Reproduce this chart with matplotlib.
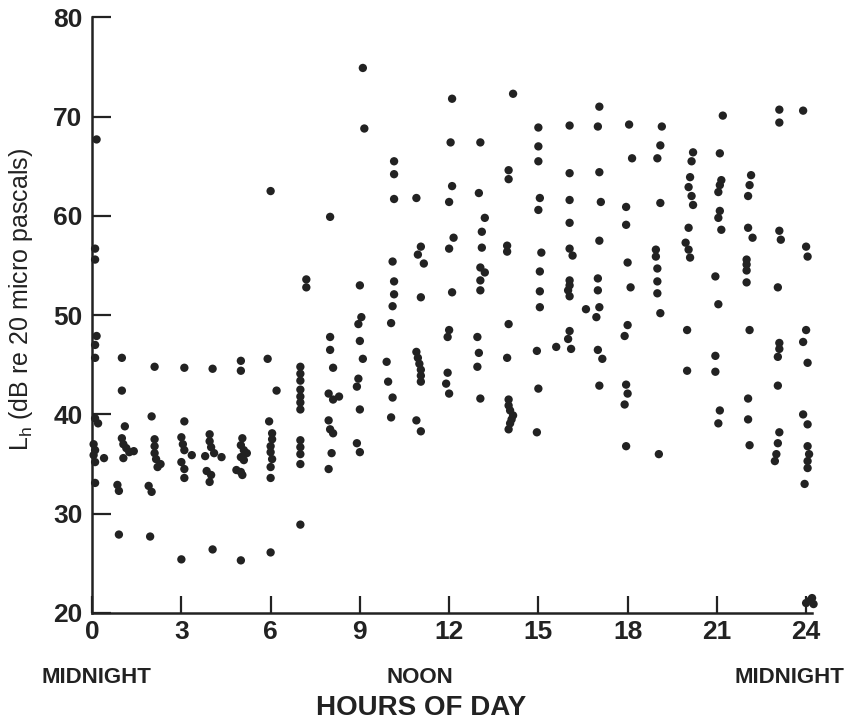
import matplotlib
matplotlib.use('Agg')
import matplotlib.pyplot as plt

plt.rcParams['font.family'] = ['Liberation Sans', 'DejaVu Sans']

# hourly noise level L_h, one row per hour column (x = hour of day, y = dB)
hours = [
    0.15, 0.1, 0.1, 0.15, 0.1, 0.1, 0.1, 0.2, 0.05, 0.1, 0.05, 0.4, 0.1, 0.1,
    1.0, 1.0, 1.1, 1.0, 1.05, 1.15, 1.25, 1.4, 1.05, 0.85, 0.9, 0.9,
    2.1, 2.0, 2.1, 2.1, 2.1, 2.15, 2.3, 2.2, 1.9, 2.0, 1.95,
    3.1, 3.1, 3.0, 3.05, 3.1, 3.35, 3.0, 3.1, 3.1, 3.0,
    4.05, 3.95, 3.95, 4.0, 4.1, 4.35, 3.8, 3.85, 4.0, 3.95, 4.05,
    5.0, 5.0, 5.05, 5.0, 5.1, 5.2, 5.0, 5.1, 4.85, 5.0, 5.05, 5.0,
    6.0, 5.9, 6.2, 5.95, 6.05, 6.05, 6.0, 6.0, 6.05, 6.0, 6.0, 6.0,
    7.2, 7.2, 7.0, 7.0, 7.0, 7.0, 7.0, 7.0, 7.0, 7.0, 7.0, 7.0, 7.0, 7.0,
    8.0, 8.0, 8.0, 8.1, 7.95, 8.3, 8.1, 7.95, 8.0, 8.1, 8.05, 7.95,
    9.1, 9.15, 9.0, 9.05, 8.95, 9.0, 9.1, 8.95, 8.9, 9.0, 8.9, 9.0,
    10.15, 10.15, 10.15, 10.1, 10.15, 10.15, 10.1, 10.05, 9.9, 9.95, 10.1, 10.05,
    10.9, 11.05, 10.95, 11.15, 11.05, 10.9, 10.95, 11.0, 11.05, 11.05, 11.05, 10.9, 11.05,
    12.1, 12.05, 12.1, 12.0, 12.15, 12.0, 12.1, 12.0, 11.95, 11.95, 11.9, 12.0,
    13.05, 13.0, 13.2, 13.1, 13.1, 13.05, 13.2, 13.05, 13.05, 12.95, 13.0, 12.95, 13.05,
    14.15, 14.0, 14.0, 13.95, 13.95, 14.0, 13.95, 14.0, 14.0, 14.05, 14.15, 14.1, 14.05, 14.0,
    15.0, 15.0, 15.0, 15.05, 15.0, 15.1, 15.05, 15.05, 15.05, 14.95, 15.0, 14.95,
    16.05, 16.05, 16.05, 16.05, 16.05, 16.15, 16.05, 16.05, 16.0, 16.05, 16.05, 16.0, 16.1, 15.6,
    17.05, 17.0, 17.05, 17.1, 17.05, 17.0, 17.0, 17.05, 16.95, 16.6, 17.0, 17.15, 17.05,
    18.05, 18.15, 17.95, 17.95, 18.0, 18.1, 18.0, 17.9, 17.95, 18.0, 17.9, 17.95,
    19.15, 19.1, 19.0, 19.1, 18.95, 18.95, 19.0, 19.0, 19.0, 19.1, 19.05,
    20.2, 20.15, 20.1, 20.05, 20.15, 20.2, 20.05, 19.95, 20.05, 20.1, 20.0, 20.0,
    21.2, 21.1, 21.15, 21.1, 21.05, 21.1, 21.05, 21.15, 20.95, 21.05, 20.95, 20.95, 21.1, 21.05,
    22.15, 22.1, 22.05, 22.05, 22.2, 22.0, 22.0, 22.0, 22.0, 22.1, 22.05, 22.05, 22.1,
    23.1, 23.1, 23.1, 23.15, 23.05, 23.1, 23.1, 23.05, 23.05, 23.1, 23.05, 23.0, 22.95,
    23.9, 24.0, 24.05, 24.0, 23.9, 24.05, 23.9, 24.05, 24.05, 24.1, 24.05, 24.05, 23.95,
    24.0, 24.15, 24.25, 24.2,
]
levels = [
    67.7, 56.7, 55.6, 47.9, 47.0, 45.7, 39.6, 39.1, 37.0, 36.4, 35.9, 35.6, 35.2, 33.1,
    45.7, 42.4, 38.8, 37.6, 37.0, 36.6, 36.2, 36.3, 35.6, 32.9, 32.3, 27.9,
    44.8, 39.8, 37.5, 36.8, 36.1, 35.5, 35.0, 34.7, 32.8, 32.2, 27.7,
    44.7, 39.3, 37.7, 37.0, 36.4, 35.9, 35.2, 34.5, 33.6, 25.4,
    44.6, 38.0, 37.3, 36.7, 36.1, 35.7, 35.8, 34.3, 33.9, 33.2, 26.4,
    45.4, 44.4, 37.6, 36.9, 36.4, 36.1, 35.7, 35.4, 34.4, 34.2, 33.9, 25.3,
    62.5, 45.6, 42.4, 39.3, 38.1, 37.5, 36.8, 36.2, 35.5, 34.7, 33.6, 26.1,
    53.6, 52.8, 44.8, 44.1, 43.4, 42.5, 41.8, 41.2, 40.5, 37.4, 36.7, 36.0, 35.0, 28.9,
    59.9, 47.8, 46.5, 44.7, 42.1, 41.8, 41.5, 39.4, 38.5, 38.1, 36.1, 34.5,
    74.9, 68.8, 53.0, 49.8, 49.1, 47.4, 45.6, 43.6, 42.8, 40.5, 37.1, 36.2,
    65.5, 64.2, 61.7, 55.4, 53.4, 52.1, 50.9, 49.2, 45.3, 43.3, 41.7, 39.7,
    61.8, 56.9, 56.1, 55.2, 51.8, 46.3, 45.7, 45.1, 44.5, 43.9, 43.3, 39.4, 38.3,
    71.8, 67.4, 63.0, 61.4, 57.8, 56.7, 52.3, 48.5, 47.8, 44.2, 43.1, 42.1,
    67.4, 62.3, 59.8, 58.4, 56.8, 54.8, 54.3, 53.5, 52.5, 47.8, 46.2, 44.8, 41.6,
    72.3, 64.6, 63.7, 57.0, 56.4, 49.1, 45.7, 41.5, 40.9, 40.4, 39.9, 39.5, 39.1, 38.5,
    68.9, 67.0, 65.5, 61.8, 60.6, 56.3, 54.4, 52.4, 50.8, 46.4, 42.6, 38.2,
    69.1, 64.3, 61.6, 59.3, 56.7, 56.0, 53.5, 53.0, 52.5, 51.9, 48.4, 47.6, 46.6, 46.8,
    71.0, 69.0, 64.4, 61.4, 57.5, 53.7, 52.5, 50.8, 49.8, 50.6, 46.5, 45.6, 42.9,
    69.2, 65.8, 60.9, 59.1, 55.3, 52.8, 49.0, 47.9, 43.0, 42.1, 41.0, 36.8,
    69.0, 67.1, 65.8, 61.3, 56.6, 55.9, 54.7, 53.4, 52.2, 50.2, 36.0,
    66.4, 65.5, 63.9, 62.9, 62.0, 61.1, 58.8, 57.3, 56.6, 55.8, 48.5, 44.4,
    70.1, 66.3, 63.6, 63.1, 62.4, 60.5, 59.8, 58.6, 53.9, 51.1, 45.9, 44.3, 40.4, 39.1,
    64.1, 63.1, 62.0, 58.8, 57.8, 55.6, 55.1, 54.5, 53.3, 48.5, 41.6, 39.5, 36.9,
    70.7, 69.4, 58.5, 57.6, 52.8, 47.2, 46.6, 45.8, 42.9, 38.2, 37.1, 36.0, 35.3,
    70.6, 56.9, 55.9, 48.5, 47.3, 45.2, 40.0, 39.0, 36.8, 36.0, 35.3, 34.6, 33.0,
    21.0, 21.3, 20.9, 21.5,
]
xticks = [0, 3, 6, 9, 12, 15, 18, 21, 24]
yticks = [20, 30, 40, 50, 60, 70, 80]

ink = '#222222'

fig = plt.figure(figsize=(8.53, 7.22), dpi=100)
ax = fig.add_axes([0.108, 0.151, 0.844, 0.825])

ax.scatter(hours, levels, s=36, color=ink, edgecolors='none', clip_on=False, zorder=3)

ax.set_xlim(0, 24.2)
ax.set_ylim(20, 80)
ax.set_xticks(xticks)
ax.set_yticks(yticks)
ax.set_xticklabels([str(t) for t in xticks], fontsize=19, fontweight='bold')
ax.set_yticklabels([str(t) for t in yticks], fontsize=19, fontweight='bold')
ax.tick_params(axis='y', direction='in', length=14, width=1.6, pad=7, colors=ink)
ax.tick_params(axis='x', direction='in', length=12, width=1.6, pad=5, colors=ink)
for s in ['top', 'right']:
    ax.spines[s].set_visible(False)
for s in ['left', 'bottom']:
    ax.spines[s].set_linewidth(1.8)
    ax.spines[s].set_color(ink)

fig.text(0.025, 0.585, r'$\mathregular{L_h}$ (dB re 20 micro pascals)', rotation=90,
         ha='center', va='center', fontsize=18, color=ink)

fig.text(0.1125, 0.062, 'MIDNIGHT', ha='center', va='center', fontsize=16, fontweight='bold', color=ink)
fig.text(0.492, 0.062, 'NOON', ha='center', va='center', fontsize=16, fontweight='bold', color=ink)
fig.text(0.925, 0.062, 'MIDNIGHT', ha='center', va='center', fontsize=16, fontweight='bold', color=ink)
fig.text(0.4936, 0.019, 'HOURS OF DAY', ha='center', va='center', fontsize=20, fontweight='bold', color=ink)

fig.savefig('out.png', dpi=100)
